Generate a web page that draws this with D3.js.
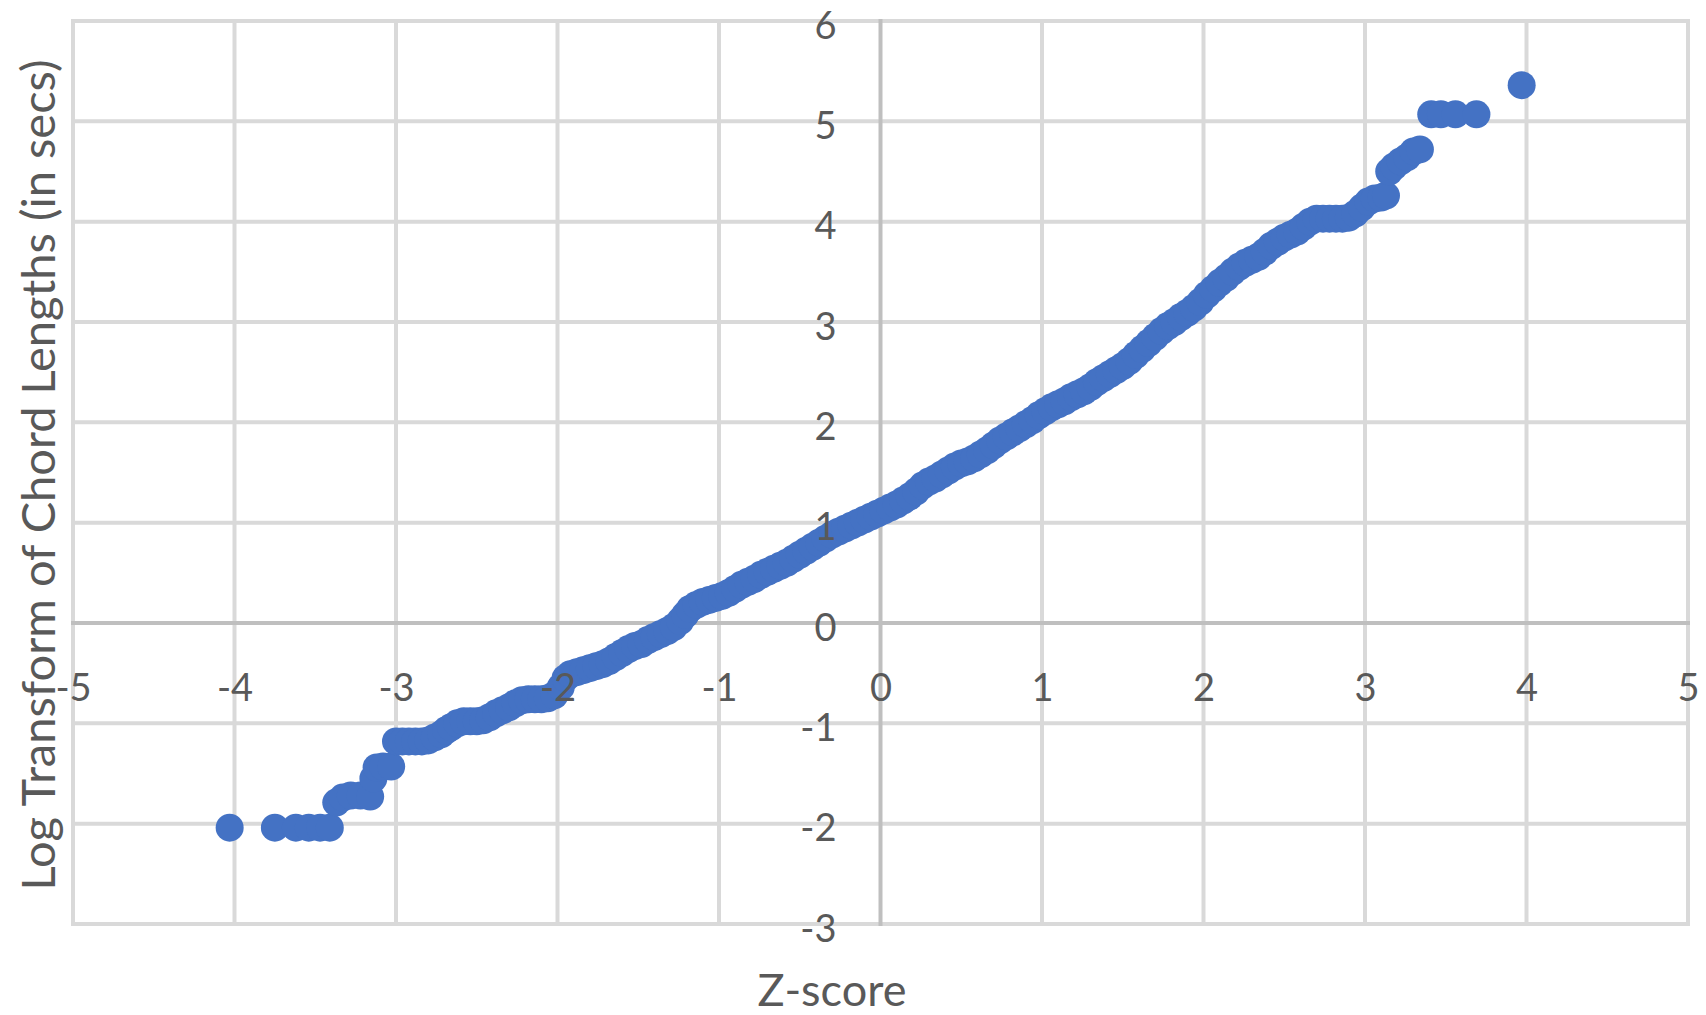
<!DOCTYPE html>
<html>
<head>
<meta charset="utf-8">
<script src="https://cdn.jsdelivr.net/npm/d3@7"></script>
<style>
  body { margin: 0; background: #fff; }
  svg { display: block; }
</style>
</head>
<body>
<svg id="chart"></svg>
<script>
// values
const zScores = [
  -4.03, -3.75, -3.62, -3.54, -3.47, -3.41, -3.37, -3.33, -3.28, -3.22,
  -3.16, -3.14, -3.12, -3.08, -3.03, -3.00, -2.96, -2.92, -2.88, -2.84,
  -2.80, -2.76, -2.72, -2.69, -2.66, -2.62, -2.58, -2.54, -2.50, -2.46,
  -2.42, -2.38, -2.34, -2.30, -2.26, -2.22, -2.18, -2.14, -2.10, -2.06,
  -2.02, -1.98, -1.95, -1.92, -1.88, -1.84, -1.80, -1.76, -1.72, -1.68,
  -1.64, -1.60, -1.56, -1.52, -1.48, -1.44, -1.40, -1.36, -1.32, -1.28,
  -1.24, -1.21, -1.18, -1.14, -1.10, -1.06, -1.02, -0.98, -0.94, -0.90,
  -0.86, -0.82, -0.78, -0.74, -0.70, -0.66, -0.62, -0.58, -0.54, -0.50,
  -0.46, -0.42, -0.38, -0.34, -0.30, -0.26, -0.22, -0.18, -0.14, -0.10,
  -0.06, -0.02, 0.02, 0.06, 0.10, 0.14, 0.18, 0.22, 0.26, 0.30,
  0.34, 0.38, 0.42, 0.46, 0.50, 0.54, 0.58, 0.62, 0.66, 0.70,
  0.74, 0.78, 0.82, 0.86, 0.90, 0.94, 0.98, 1.02, 1.06, 1.10,
  1.14, 1.18, 1.22, 1.26, 1.30, 1.34, 1.38, 1.42, 1.46, 1.50,
  1.54, 1.58, 1.62, 1.66, 1.70, 1.74, 1.78, 1.82, 1.86, 1.90,
  1.94, 1.98, 2.02, 2.06, 2.10, 2.14, 2.18, 2.22, 2.26, 2.30,
  2.34, 2.38, 2.42, 2.46, 2.50, 2.54, 2.58, 2.62, 2.66, 2.70,
  2.74, 2.78, 2.82, 2.86, 2.90, 2.94, 2.98, 3.02, 3.06, 3.10,
  3.13, 3.15, 3.18, 3.22, 3.26, 3.30, 3.34, 3.41, 3.47, 3.56,
  3.69, 3.97
];
const logLengths = [
  -2.04, -2.04, -2.04, -2.04, -2.04, -2.04, -1.79, -1.74, -1.72, -1.72,
  -1.73, -1.55, -1.44, -1.43, -1.43, -1.18, -1.18, -1.18, -1.18, -1.18,
  -1.17, -1.14, -1.11, -1.07, -1.04, -1.00, -0.98, -0.98, -0.98, -0.97,
  -0.94, -0.90, -0.87, -0.84, -0.80, -0.77, -0.76, -0.76, -0.76, -0.75,
  -0.72, -0.64, -0.55, -0.51, -0.49, -0.47, -0.45, -0.43, -0.41, -0.38,
  -0.34, -0.30, -0.26, -0.23, -0.21, -0.17, -0.14, -0.11, -0.08, -0.04,
  0.02, 0.08, 0.14, 0.18, 0.21, 0.23, 0.25, 0.27, 0.30, 0.34,
  0.38, 0.41, 0.44, 0.48, 0.51, 0.54, 0.57, 0.60, 0.64, 0.68,
  0.72, 0.76, 0.80, 0.84, 0.88, 0.91, 0.94, 0.97, 1.00, 1.03,
  1.06, 1.09, 1.12, 1.15, 1.18, 1.22, 1.26, 1.31, 1.37, 1.41,
  1.44, 1.48, 1.52, 1.56, 1.59, 1.61, 1.64, 1.68, 1.72, 1.77,
  1.82, 1.86, 1.90, 1.94, 1.98, 2.02, 2.07, 2.11, 2.15, 2.18,
  2.21, 2.25, 2.28, 2.31, 2.35, 2.40, 2.44, 2.48, 2.52, 2.56,
  2.61, 2.67, 2.73, 2.79, 2.85, 2.91, 2.96, 3.00, 3.05, 3.09,
  3.14, 3.20, 3.27, 3.33, 3.39, 3.44, 3.50, 3.55, 3.59, 3.62,
  3.65, 3.70, 3.76, 3.80, 3.84, 3.87, 3.90, 3.95, 4.00, 4.03,
  4.03, 4.03, 4.03, 4.03, 4.04, 4.08, 4.14, 4.20, 4.23, 4.24,
  4.26, 4.50, 4.55, 4.60, 4.64, 4.70, 4.72, 5.07, 5.07, 5.07,
  5.07, 5.36
];
const xTicks = [-5, -4, -3, -2, -1, 0, 1, 2, 3, 4, 5];
const yTicks = [-3, -2, -1, 0, 1, 2, 3, 4, 5, 6];

const width = 1706;
const height = 1015;
const margin = { top: 21, right: 18, bottom: 91, left: 73 };
const font = 'Lato, Calibri, Carlito, sans-serif';

const points = zScores.map((z, i) => ({ z, v: logLengths[i] }));

const svg = d3.select('#chart')
  .attr('width', width)
  .attr('height', height)
  .style('font-family', font);

const x = d3.scaleLinear()
  .domain([-5, 5])
  .range([margin.left, width - margin.right]);

const y = d3.scaleLinear()
  .domain([-3, 6])
  .range([height - margin.bottom, margin.top]);

// gridlines (the zero lines are a shade darker)
const grid = svg.append('g');
grid.selectAll('.vgrid')
  .data(xTicks)
  .join('line')
  .attr('x1', d => x(d)).attr('x2', d => x(d))
  .attr('y1', y(6) - 2).attr('y2', y(-3) + 2)
  .attr('stroke', d => d === 0 ? '#bfbfbf' : '#d9d9d9')
  .attr('stroke-width', 4);
grid.selectAll('.hgrid')
  .data(yTicks)
  .join('line')
  .attr('x1', x(-5) - 2).attr('x2', x(5) + 2)
  .attr('y1', d => y(d)).attr('y2', d => y(d))
  .attr('stroke', d => d === 0 ? '#bfbfbf' : '#d9d9d9')
  .attr('stroke-width', 4);
grid.selectAll('line').filter(d => d === 0).raise();

// points
svg.append('g')
  .selectAll('circle')
  .data(points)
  .join('circle')
  .attr('cx', d => x(d.z))
  .attr('cy', d => y(d.v))
  .attr('r', 14)
  .attr('fill', '#4472c4');

// tick labels, placed next to the zero lines
const fmt = d => String(d);
const xAxis = svg.append('g')
  .attr('transform', `translate(0,${y(0)})`)
  .call(d3.axisBottom(x).tickValues(xTicks).tickSize(0).tickPadding(51).tickFormat(fmt));
const yAxis = svg.append('g')
  .attr('transform', `translate(${x(0)},0)`)
  .call(d3.axisLeft(y).tickValues(yTicks).tickSize(0).tickPadding(44).tickFormat(fmt));

[xAxis, yAxis].forEach(g => {
  g.select('.domain').remove();
  g.selectAll('text')
    .attr('fill', '#595959')
    .style('font-family', font)
    .style('font-size', '38px');
});
yAxis.selectAll('text').attr('dy', '0.45em');

// axis titles
svg.append('text')
  .attr('x', 832)
  .attr('y', 1006)
  .attr('text-anchor', 'middle')
  .attr('fill', '#595959')
  .style('font-size', '45px')
  .text('Z-score');

svg.append('text')
  .attr('transform', 'translate(55,475) rotate(-90)')
  .attr('text-anchor', 'middle')
  .attr('fill', '#595959')
  .style('font-size', '47px')
  .text('Log Transform of Chord Lengths (in secs)');
</script>
</body>
</html>
